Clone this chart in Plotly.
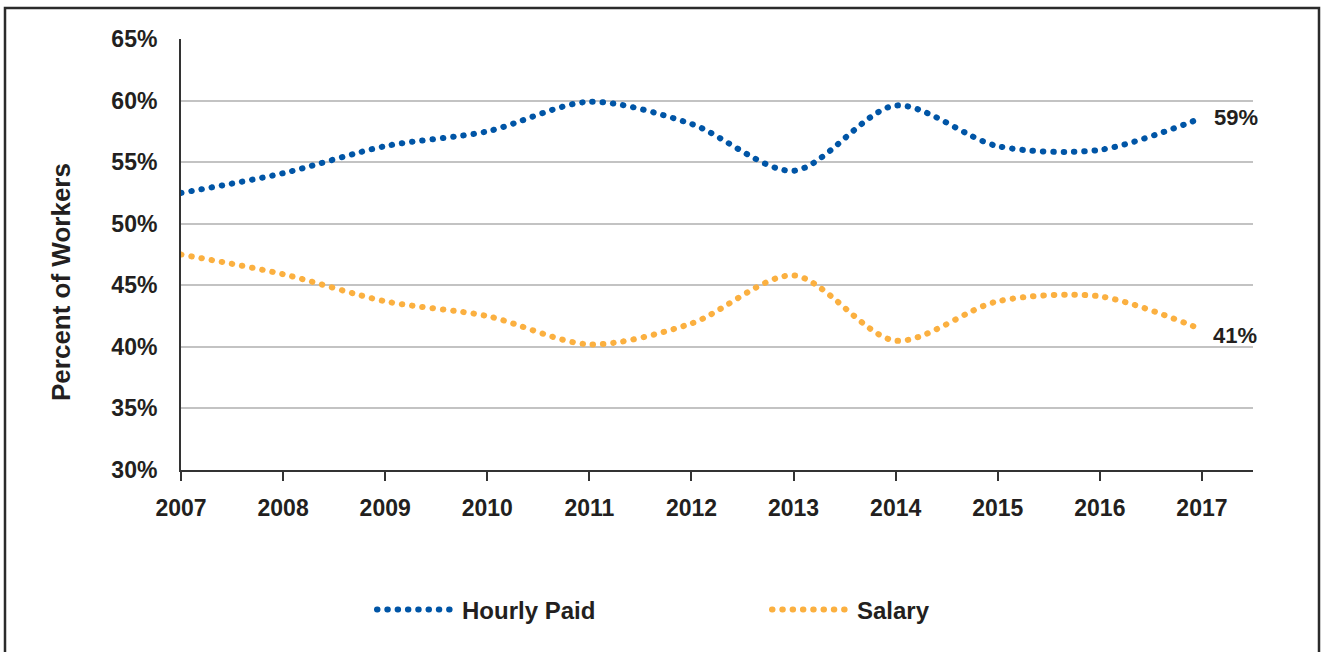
import plotly.graph_objects as go

years = [2007, 2008, 2009, 2010, 2011, 2012, 2013, 2014, 2015, 2016, 2017]
hourly = [52.5, 54.1, 56.3, 57.5, 59.9, 58.1, 54.3, 59.6, 56.3, 56.0, 58.6]
salary = [47.5, 45.9, 43.7, 42.5, 40.2, 41.9, 45.8, 40.5, 43.7, 44.1, 41.4]
y_ticks = [30, 35, 40, 45, 50, 55, 60, 65]
y_tick_labels = [f"{v}%" for v in y_ticks]
end_labels = ["59%", "41%"]

BLUE = "#0055A6"
ORANGE = "#FBB040"
TXT = "#231F20"
FONT = "Liberation Sans, Arial, sans-serif"
DASH = "0.5px,9.8px"

fig = go.Figure()
fig.add_trace(go.Scatter(x=years, y=hourly, mode="lines", name="Hourly Paid",
                         line=dict(color=BLUE, width=6, dash=DASH, shape="spline", smoothing=0.85)))
fig.add_trace(go.Scatter(x=years, y=salary, mode="lines", name="Salary",
                         line=dict(color=ORANGE, width=6, dash=DASH, shape="spline", smoothing=0.85)))

fig.add_annotation(x=years[-1], y=hourly[-1], text=end_labels[0], showarrow=False,
                   xanchor="left", xshift=10, yshift=0,
                   font=dict(size=22, color=TXT, family=FONT, weight="bold"))
fig.add_annotation(x=years[-1], y=salary[-1], text=end_labels[1], showarrow=False,
                   xanchor="left", xshift=9, yshift=-6,
                   font=dict(size=22, color=TXT, family=FONT, weight="bold"))

fig.add_annotation(xref="paper", yref="paper", x=(61 - 181) / 1072, y=(470 - 282) / 431,
                   xanchor="center", yanchor="middle",
                   text="Percent of Workers", textangle=-90, showarrow=False,
                   font=dict(size=26, color=TXT, family=FONT, weight="bold"))

# outer frame
fig.add_shape(type="rect", xref="paper", yref="paper",
              x0=(5 - 181) / 1072, x1=(1319 - 181) / 1072,
              y0=(470 - 700) / 431, y1=(470 - 8) / 431,
              line=dict(color="#2B2B2B", width=2.5), fillcolor="rgba(0,0,0,0)")

fig.update_layout(
    width=1322, height=652,
    margin=dict(l=181, r=69, t=39, b=182),
    paper_bgcolor="white", plot_bgcolor="white",
    font=dict(family=FONT, color=TXT, size=22, weight="bold"),
    showlegend=True,
    legend=dict(orientation="h", x=(372 - 181) / 1072, xanchor="left",
                y=(470 - 610) / 431, yanchor="middle",
                font=dict(size=24, color=TXT, family=FONT, weight="bold"),
                itemwidth=80, entrywidth=300, entrywidthmode="pixels",
                bgcolor="rgba(0,0,0,0)"),
    xaxis=dict(range=[2007, 2017.5], tickvals=years, ticktext=[str(y) for y in years],
               showgrid=False, showline=True, linecolor="#333333", linewidth=2,
               ticks="outside", ticklen=9, tickwidth=2, tickcolor="#333333",
               ticklabelstandoff=7, zeroline=False,
               tickfont=dict(size=23, weight="bold")),
    yaxis=dict(range=[30, 65], tickvals=y_ticks, ticktext=y_tick_labels,
               showgrid=True, gridcolor="#C3C3C3", gridwidth=2,
               showline=True, linecolor="#333333", linewidth=2,
               ticks="", ticklabelstandoff=17, zeroline=False,
               tickfont=dict(size=23, weight="bold")),
)

round_caps = (
    "document.body.style.margin='0';document.body.style.overflow='hidden';"
    "var st=document.createElement('style');"
    "st.textContent='.js-line{stroke-linecap:round !important;}';"
    "document.head.appendChild(st);"
)
fig.write_html("out.html", config={"displayModeBar": False}, post_script=round_caps)
